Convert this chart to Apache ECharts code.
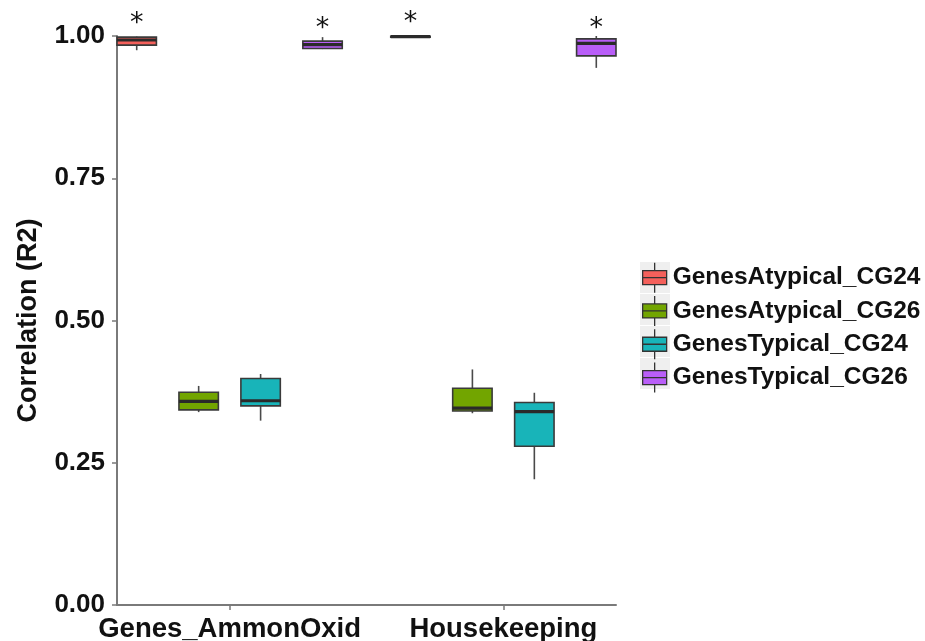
<!DOCTYPE html>
<html>
<head>
<meta charset="utf-8">
<title>Correlation (R2)</title>
<script src="https://cdn.jsdelivr.net/npm/echarts@6/dist/echarts.min.js"></script>
<style>
  html, body { margin: 0; padding: 0; background: #ffffff; }
  #chart { width: 925px; height: 641px; }
</style>
</head>
<body>
<div id="chart"></div>
<script>
// Gene groups on the x axis
const categories = ['Genes_AmmonOxid', 'Housekeeping'];

// Fill groups (one box per group per category)
const seriesNames = ['GenesAtypical_CG24', 'GenesAtypical_CG26', 'GenesTypical_CG24', 'GenesTypical_CG26'];

// Five-number summaries per category: [min, q1, median, q3, max]
const atypicalCG24 = [[0.975, 0.984, 0.993, 0.998, 0.999], [0.998, 0.998, 0.999, 0.9995, 0.9995]];
const atypicalCG26 = [[0.339, 0.343, 0.358, 0.374, 0.385], [0.337, 0.341, 0.346, 0.381, 0.414]];
const typicalCG24  = [[0.324, 0.350, 0.359, 0.398, 0.406], [0.221, 0.279, 0.340, 0.356, 0.373]];
const typicalCG26  = [[0.977, 0.978, 0.985, 0.991, 0.998], [0.944, 0.965, 0.987, 0.995, 1.000]];

// Height of the significance asterisk per category (null = not marked)
const sigAtypicalCG24 = [1.033, 1.035];
const sigAtypicalCG26 = [null, null];
const sigTypicalCG24  = [null, null];
const sigTypicalCG26  = [1.025, 1.025];

// Y axis ticks
const yTicks = [0, 0.25, 0.5, 0.75, 1];

const summaries = [atypicalCG24, atypicalCG26, typicalCG24, typicalCG26];
const sigHeights = [sigAtypicalCG24, sigAtypicalCG26, sigTypicalCG24, sigTypicalCG26];
const fills = ['#F4605B', '#72A500', '#18B4B9', '#B95EF8'];

const FONT = "'Liberation Sans', Arial, Helvetica, sans-serif";
const DODGE = 0.2263;   // spacing between dodged boxes, in category units
const BOX_W = 0.144;    // box width, in category units
const nSeries = seriesNames.length;
const xMin = -(1.5 * DODGE + BOX_W / 2);
const xMax = categories.length - 1 + 1.5 * DODGE + BOX_W / 2;

function renderBox(params, api) {
  const x = api.value(0);
  const pLo = api.coord([x, api.value(1)]);
  const pQ1 = api.coord([x, api.value(2)]);
  const pMed = api.coord([x, api.value(3)]);
  const pQ3 = api.coord([x, api.value(4)]);
  const pHi = api.coord([x, api.value(5)]);
  const half = api.size([BOX_W, 0])[0] / 2;
  const cx = pMed[0];
  const children = [
    { type: 'line', shape: { x1: cx, y1: pHi[1], x2: cx, y2: pQ3[1] },
      style: { stroke: '#4a4a4a', lineWidth: 1.6 } },
    { type: 'line', shape: { x1: cx, y1: pQ1[1], x2: cx, y2: pLo[1] },
      style: { stroke: '#4a4a4a', lineWidth: 1.6 } },
    { type: 'rect', shape: { x: cx - half, y: pQ3[1], width: half * 2, height: Math.max(pQ1[1] - pQ3[1], 0.5) },
      style: { fill: api.visual('color'), stroke: '#3a3a3a', lineWidth: 1.6 } },
    { type: 'line', shape: { x1: cx - half, y1: pMed[1], x2: cx + half, y2: pMed[1] },
      style: { stroke: '#2a2a2a', lineWidth: 3.2 } }
  ];
  const sig = api.value(6);
  if (sig !== null && !isNaN(sig)) {
    const pS = api.coord([x, sig]);
    children.push({ type: 'text', style: {
      text: '*', x: cx, y: pS[1] + 7, align: 'center', verticalAlign: 'middle',
      fill: '#111', font: "normal 27px 'DejaVu Sans', sans-serif" } });
  }
  return { type: 'group', children: children };
}

const series = seriesNames.map(function (name, i) {
  const data = summaries[i].map(function (s, g) {
    const sig = sigHeights[i][g];
    return [g + (i - (nSeries - 1) / 2) * DODGE, s[0], s[1], s[2], s[3], s[4], sig === null ? NaN : sig];
  });
  return {
    type: 'custom', name: name, renderItem: renderBox,
    encode: { x: 0, y: [1, 2, 3, 4, 5] },
    itemStyle: { color: fills[i] },
    clip: false,
    data: data
  };
});

const chart = echarts.init(document.getElementById('chart'), null, { renderer: 'canvas' });

const legendTop = 262, legendGap = 2, legendItemH = 30;
const tiles = seriesNames.map(function (n, i) {
  return { type: 'rect', left: 640, top: legendTop + i * (legendItemH + legendGap), z: 0,
    shape: { width: 30, height: 31 }, style: { fill: '#efefef' } };
});

chart.setOption({
  animation: false,
  backgroundColor: '#ffffff',
  grid: { left: 117, right: 309, top: 36, bottom: 36, containLabel: false, outerBoundsMode: 'none' },
  graphic: tiles,
  legend: {
    orient: 'vertical', left: 642, top: legendTop, padding: 0,
    itemWidth: 26, itemHeight: legendItemH, itemGap: legendGap,
    icon: 'path://M13,0L13,8M1,8L25,8L25,22L1,22ZM1,15L25,15M13,22L13,30',
    itemStyle: { borderColor: '#333', borderWidth: 1.3 },
    textStyle: { fontFamily: FONT, fontWeight: 'bold', fontSize: 24.5, color: '#111' },
    data: seriesNames
  },
  xAxis: {
    type: 'value', min: xMin, max: xMax,
    axisLine: { show: true, onZero: false, lineStyle: { color: '#7a7a7a', width: 2 } },
    axisTick: { show: true, customValues: [0, 1], length: 5, lineStyle: { color: '#7a7a7a', width: 1.5 } },
    axisLabel: { customValues: [0, 1], margin: 10, fontFamily: FONT, fontWeight: 'bold', fontSize: 27.5, color: '#111',
      formatter: function (v) { return categories[Math.round(v)]; } },
    splitLine: { show: false }
  },
  yAxis: {
    type: 'value', min: yTicks[0], max: yTicks[yTicks.length - 1], interval: 0.25,
    name: 'Correlation (R2)', nameLocation: 'middle', nameGap: 75, nameRotate: 90,
    nameTextStyle: { fontFamily: FONT, fontWeight: 'bold', fontSize: 27, color: '#111' },
    axisLine: { show: true, onZero: false, lineStyle: { color: '#7a7a7a', width: 2 } },
    axisTick: { show: true, length: 5, lineStyle: { color: '#7a7a7a', width: 1.5 } },
    axisLabel: { margin: 12, fontFamily: FONT, fontWeight: 'bold', fontSize: 26, color: '#111',
      formatter: function (v) { return v.toFixed(2); } },
    splitLine: { show: false }
  },
  series: series
});
</script>
</body>
</html>
